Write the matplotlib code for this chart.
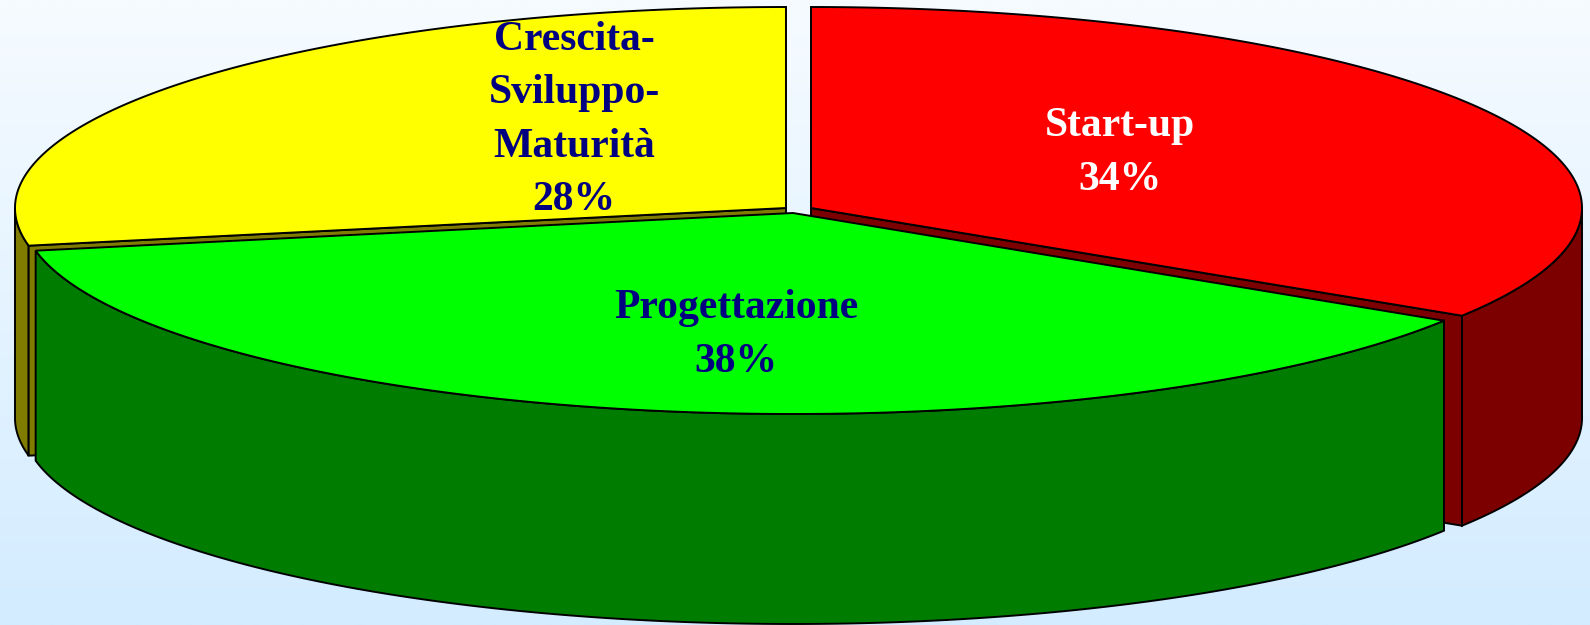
import numpy as np
import matplotlib
matplotlib.use("Agg")
import matplotlib.pyplot as plt
from matplotlib.colors import LinearSegmentedColormap
from matplotlib.patches import Polygon

labels = ["Start-up\n34%", "Progettazione\n38%", "Crescita-\nSviluppo-\nMaturità\n28%"]
values = [34, 38, 28]
top_colors = ["#ff0000", "#00ff00", "#ffff00"]
side_colors = ["#7c0000", "#007c00", "#807c00"]
text_colors = ["white", "#000080", "#000080"]
centers = [(811, 208), (793, 213), (786, 208)]
label_pos = [(1120, 153), (736, 335), (574, 120)]

rx = 771
ry = 201
depth = 210
W, H = 1590, 625


def ell(cx, cy, deg):
    a = np.radians(deg)
    return np.column_stack([cx + rx * np.sin(a), cy - ry * np.cos(a)])


fig = plt.figure(figsize=(W / 100, H / 100), dpi=100)
ax = fig.add_axes([0, 0, 1, 1])
ax.set_xlim(0, W)
ax.set_ylim(H, 0)
ax.axis("off")

bg = LinearSegmentedColormap.from_list("bg", ["#f6fbff", "#d3ecff"])
ax.imshow(np.linspace(0, 1, 256).reshape(-1, 1), cmap=bg, extent=(0, W, H, 0), aspect="auto", zorder=0)

starts = np.cumsum([0] + values[:-1]) * 3.6
ends = np.cumsum(values) * 3.6
edge = dict(ec="black", lw=1.4, joinstyle="miter")
# back slices first so the green one sits in front
for z, i in enumerate([2, 0, 1]):
    cx, cy = centers[i]
    arc = ell(cx, cy, np.linspace(starts[i], ends[i], 200))
    # visible outer wall is the part facing down
    front = np.linspace(max(starts[i], 90), min(ends[i], 270), 200)
    f = ell(cx, cy, front)
    wall = np.vstack([f, (f + [0, depth])[::-1]])
    ax.add_patch(Polygon(wall, fc=side_colors[i], zorder=2 + z, **edge))
    # inner cut wall
    if i == 0:
        p = ell(cx, cy, [ends[i]])[0]
        cut = [(cx, cy), p, p + [0, depth], (cx, cy + depth)]
        ax.add_patch(Polygon(cut, fc=side_colors[i], zorder=2 + z, **edge))
    if i == 2:
        p = ell(cx, cy, [starts[i]])[0]
        cut = [(cx, cy), p, p + [0, depth], (cx, cy + depth)]
        ax.add_patch(Polygon(cut, fc=side_colors[i], zorder=2 + z, **edge))
    top = np.vstack([[cx, cy], arc])
    ax.add_patch(Polygon(top, fc=top_colors[i], zorder=2 + z, **edge))
    ax.text(label_pos[i][0], label_pos[i][1], labels[i], color=text_colors[i], ha="center", va="center",
            fontsize=30, fontweight="bold", family="Liberation Serif", linespacing=1.53, zorder=10)

fig.savefig("out.png", dpi=100)
